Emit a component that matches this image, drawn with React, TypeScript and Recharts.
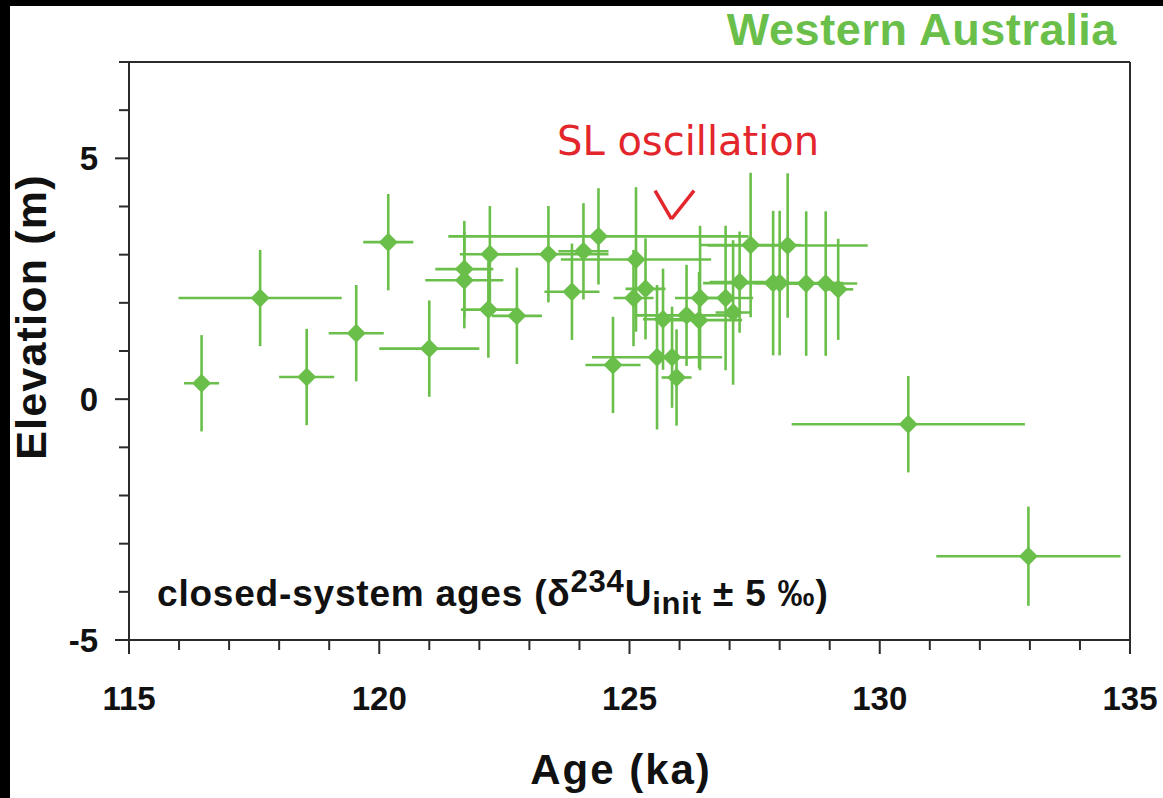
import { ScatterChart, Scatter, XAxis, YAxis, ErrorBar, ReferenceLine } from "recharts";

// Age (ka) and elevation (m) of each dated sample, with their 2-sigma errors
const ages = [
  116.45, 117.62, 118.55, 119.54, 120.18, 121.0, 121.7, 121.7, 122.21, 122.18, 122.75, 123.38,
  123.85, 124.08, 124.38, 124.67, 125.13, 125.32, 125.08, 125.55, 125.85, 125.94, 125.67, 126.14,
  126.39, 126.41, 126.92, 127.07, 127.2, 127.42, 128.16, 127.87, 128.0, 128.53, 128.92, 129.17,
  130.57, 132.97,
];
const elevations = [
  0.33, 2.1, 0.46, 1.37, 3.26, 1.05, 2.7, 2.47, 3.01, 1.86, 1.73, 3.01, 2.23, 3.07, 3.38, 0.71,
  2.9, 2.29, 2.1, 0.87, 0.87, 0.45, 1.66, 1.74, 1.64, 2.1, 2.1, 1.8, 2.43, 3.2, 3.19, 2.41, 2.41,
  2.4, 2.4, 2.28, -0.52, -3.26,
];
const ageErrors = [
  0.35, 1.63, 0.55, 0.55, 0.5, 1.0, 0.58, 0.78, 0.6, 0.55, 0.5, 1.2, 0.55, 0.5, 3.0, 0.55, 1.5,
  0.4, 0.4, 1.3, 0.4, 0.3, 0.4, 1.04, 0.86, 0.5, 0.55, 0.35, 0.6, 1.0, 1.6, 1.4, 0.5, 0.5, 0.63,
  0.3, 2.33, 1.84,
];
const elevationErrors = [
  1, 1, 1, 1, 1, 1, 1, 1, 1, 1, 1, 1, 1, 1, 1, 1, 1.5, 1.05, 1, 1.5, 1.05, 1, 1.05, 1.05, 1, 1.5,
  1.5, 1.5, 1.05, 1.5, 1.5, 1.5, 1.5, 1.5, 1.5, 1.05, 1, 1.03,
];

const xTicks = Array.from({ length: 21 }, (_, i) => 115 + i);
const yTicks = [-5, -4, -3, -2, -1, 0, 1, 2, 3, 4, 5, 6, 7];

// the red "V" mark under the SL oscillation note
const markLeft = { x: 125.51, y: 4.33 };
const markBottom = { x: 125.84, y: 3.74 };
const markRight = { x: 126.29, y: 4.33 };

const data = ages.map((age, i) => ({
  age,
  elev: elevations[i],
  ex: ageErrors[i],
  ey: elevationErrors[i],
}));

const GREEN = "#6abf4a";
const AXIS = "#2b2b2b";
const FONT = "'Liberation Sans', Arial, sans-serif";

const W = 1163;
const H = 798;

const Diamond = (props: any) => {
  const { cx, cy } = props;
  if (cx == null || cy == null) return null;
  const r = 9.5;
  return <polygon points={`${cx},${cy - r} ${cx + r},${cy} ${cx},${cy + r} ${cx - r},${cy}`} fill={GREEN} />;
};

const YTick = (props: any) => {
  const { x, y, payload } = props;
  const major = payload.value % 5 === 0;
  const len = major ? 14 : 10;
  return (
    <g>
      <line x1={x} x2={x - len} y1={y} y2={y} stroke={AXIS} strokeWidth={2} />
      {major && payload.value !== 7 && (
        <text x={x - 31} y={y + 12} textAnchor="end" fontSize={33} fontWeight="bold" fontFamily={FONT} fill="#111">
          {payload.value}
        </text>
      )}
    </g>
  );
};

const XTick = (props: any) => {
  const { x, y, payload } = props;
  const major = payload.value % 5 === 0;
  const len = major ? 14 : 10;
  return (
    <g>
      <line x1={x} x2={x} y1={y} y2={y + len} stroke={AXIS} strokeWidth={2} />
      {major && (
        <text x={x} y={y + 70} textAnchor="middle" fontSize={33} fontWeight="bold" fontFamily={FONT} fill="#111">
          {payload.value}
        </text>
      )}
    </g>
  );
};

export default function App() {
  return (
    <div style={{ position: "absolute", left: 0, top: 0, width: W, height: H, background: "#fff", overflow: "hidden" }}>
      <ScatterChart width={W} height={H} margin={{ top: 61, right: 32, bottom: 157, left: 128 }}>
        <XAxis
          type="number"
          dataKey="age"
          domain={[115, 135]}
          ticks={xTicks}
          interval={0}
          height={1}
          tickSize={0}
          tickMargin={0}
          tickLine={false}
          tick={<XTick />}
          axisLine={{ stroke: AXIS, strokeWidth: 2 }}
          allowDataOverflow
        />
        <XAxis
          xAxisId="top"
          orientation="top"
          type="number"
          domain={[115, 135]}
          height={1}
          tick={false}
          tickLine={false}
          axisLine={{ stroke: AXIS, strokeWidth: 2 }}
        />
        <YAxis
          type="number"
          dataKey="elev"
          domain={[-5, 7]}
          ticks={yTicks}
          interval={0}
          width={1}
          tickSize={0}
          tickMargin={0}
          tickLine={false}
          tick={<YTick />}
          axisLine={{ stroke: AXIS, strokeWidth: 2 }}
          allowDataOverflow
        />
        <YAxis
          yAxisId="right"
          orientation="right"
          type="number"
          domain={[-5, 7]}
          width={1}
          tick={false}
          tickLine={false}
          axisLine={{ stroke: AXIS, strokeWidth: 2 }}
        />
        <Scatter data={data} shape={<Diamond />} isAnimationActive={false}>
          <ErrorBar dataKey="ex" direction="x" width={0} stroke={GREEN} strokeWidth={2.6} isAnimationActive={false} />
          <ErrorBar dataKey="ey" direction="y" width={0} stroke={GREEN} strokeWidth={2.6} isAnimationActive={false} />
        </Scatter>
        <ReferenceLine segment={[markLeft, markBottom]} stroke="#e3262b" strokeWidth={3.5} />
        <ReferenceLine segment={[markBottom, markRight]} stroke="#e3262b" strokeWidth={3.5} />
      </ScatterChart>

      <svg width={W} height={H} style={{ position: "absolute", left: 0, top: 0, pointerEvents: "none" }}>
        <text
          x={1117}
          y={45}
          textAnchor="end"
          fontSize={45}
          fontWeight="bold"
          fontFamily={FONT}
          fill={GREEN}
          letterSpacing={0.6}
        >
          Western Australia
        </text>
        <text x={557} y={155} fontSize={40} fontFamily="'DejaVu Sans', sans-serif" fill="#e3262b">
          SL oscillation
        </text>
        <text
          x={0}
          y={0}
          transform="translate(46, 317) rotate(-90)"
          textAnchor="middle"
          fontSize={43}
          fontWeight="bold"
          fontFamily={FONT}
          fill="#111"
          letterSpacing={1.2}
        >
          Elevation (m)
        </text>
        <text
          x={621}
          y={784}
          textAnchor="middle"
          fontSize={42}
          fontWeight="bold"
          fontFamily={FONT}
          fill="#111"
          letterSpacing={2}
        >
          Age (ka)
        </text>
        <text x={157} y={606} fontSize={37} fontWeight="bold" fontFamily={FONT} fill="#111" letterSpacing={0.8}>
          closed-system ages (δ
          <tspan fontSize={31} dy={-14}>234</tspan>
          <tspan fontSize={37} dy={14}>U</tspan>
          <tspan fontSize={31} dy={8}>init</tspan>
          <tspan fontSize={37} dy={-8}> ± 5 ‰)</tspan>
        </text>
      </svg>

      <div style={{ position: "absolute", left: 0, top: 0, width: W, height: 6, background: "#000" }} />
      <div style={{ position: "absolute", left: 0, top: 0, width: 10, height: H, background: "#000" }} />
    </div>
  );
}
